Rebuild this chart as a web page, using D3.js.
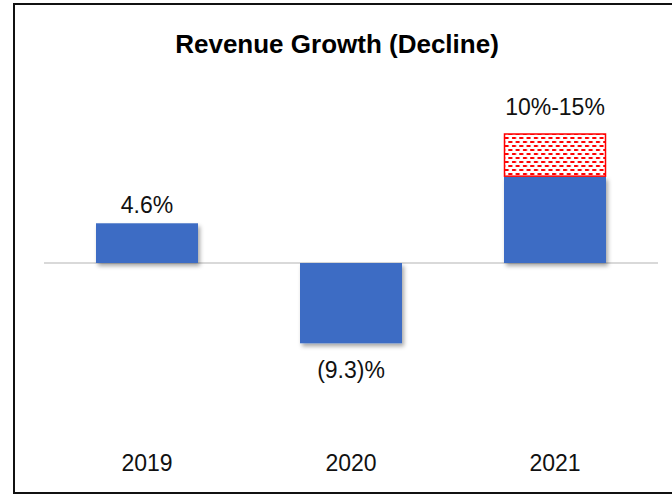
<!DOCTYPE html>
<html>
<head>
<meta charset="utf-8">
<script src="https://cdn.jsdelivr.net/npm/d3@7"></script>
<style>
  body { margin: 0; background: #fff; }
  svg { display: block; font-family: "Liberation Sans", Arial, sans-serif; }
</style>
</head>
<body>
<svg id="chart"></svg>
<script>
//Chart data.
var years = ["2019", "2020", "2021"];
var growth = [4.6, -9.3, 10];
//Top of the guided range, only for 2021.
var rangeTop = [null, null, 15];
var valueLabels = ["4.6%", "(9.3)%", "10%-15%"];
var title = "Revenue Growth (Decline)";

var w = 672, h = 495;
var svg = d3.select("#chart").attr("width", w).attr("height", h);

var defs = svg.append("defs");

//Soft drop shadow under the bars.
var shadow = defs.append("filter").attr("id", "shadow")
  .attr("x", "-10%").attr("y", "-10%").attr("width", "130%").attr("height", "130%");
shadow.append("feDropShadow")
  .attr("dx", 2).attr("dy", 3).attr("stdDeviation", 2)
  .attr("flood-color", "#000").attr("flood-opacity", 0.35);

//Red brick-dash pattern for the range part of 2021.
var pat = defs.append("pattern").attr("id", "hatch")
  .attr("patternUnits", "userSpaceOnUse")
  .attr("width", 7.3).attr("height", 8);
pat.append("rect").attr("width", 7.3).attr("height", 8).attr("fill", "#fff");
pat.append("rect").attr("x", 1).attr("y", 1).attr("width", 4).attr("height", 2).attr("fill", "#ff0000");
pat.append("rect").attr("x", 4.65).attr("y", 5).attr("width", 4).attr("height", 2).attr("fill", "#ff0000");
pat.append("rect").attr("x", -2.65).attr("y", 5).attr("width", 4).attr("height", 2).attr("fill", "#ff0000");

//Outer frame (right edge runs off the picture).
svg.append("path")
  .attr("d", "M" + (w + 2) + ",4 H14 V493 H" + (w + 2))
  .attr("fill", "none").attr("stroke", "#111").attr("stroke-width", 2);

//Scales.
var x = d3.scaleBand().domain(years).range([45, 657])
  .paddingInner(0.5).paddingOuter(0.25);
var y = d3.scaleLinear().domain([-15, 15]).range([392.5, 133.5]);

//Title.
svg.append("text")
  .attr("x", 337).attr("y", 53)
  .attr("text-anchor", "middle")
  .attr("font-size", 26).attr("font-weight", "bold")
  .attr("fill", "#000")
  .text(title);

//Zero line.
svg.append("line")
  .attr("x1", 44).attr("x2", 658)
  .attr("y1", y(0)).attr("y2", y(0))
  .attr("stroke", "#d9d9d9").attr("stroke-width", 2);

var data = years.map((d, i) => ({ year: d, v: growth[i], top: rangeTop[i], label: valueLabels[i] }));

//Bars.
svg.append("g").selectAll("rect")
  .data(data)
  .enter().append("rect")
    .attr("x", d => x(d.year))
    .attr("width", x.bandwidth())
    .attr("y", d => y(Math.max(0, d.v)))
    .attr("height", d => Math.abs(y(d.v) - y(0)))
    .attr("fill", "#3c6cc4")
    .attr("filter", "url(#shadow)");

//Range part on top of 2021.
svg.append("g").selectAll("rect")
  .data(data.filter(d => d.top != null))
  .enter().append("rect")
    .attr("x", d => x(d.year) + 0.5)
    .attr("width", x.bandwidth() - 1)
    .attr("y", d => y(d.top) + 0.5)
    .attr("height", d => y(d.v) - y(d.top) - 1)
    .attr("fill", "url(#hatch)")
    .attr("stroke", "#ff0000").attr("stroke-width", 1.5);

//Value labels.
function labelY(d) {
  if (d.v < 0) return y(d.v) + 35;
  if (d.top != null) return y(d.top) - 19;
  return y(d.v) - 10;
}
svg.append("g").selectAll("text")
  .data(data)
  .enter().append("text")
    .attr("x", d => x(d.year) + x.bandwidth() / 2)
    .attr("y", labelY)
    .attr("text-anchor", "middle")
    .attr("font-size", 23)
    .attr("fill", "#111")
    .text(d => d.label);

//Year labels.
svg.append("g").selectAll("text")
  .data(years)
  .enter().append("text")
    .attr("x", d => x(d) + x.bandwidth() / 2)
    .attr("y", 471)
    .attr("text-anchor", "middle")
    .attr("font-size", 23)
    .attr("fill", "#111")
    .text(d => d);
</script>
</body>
</html>
